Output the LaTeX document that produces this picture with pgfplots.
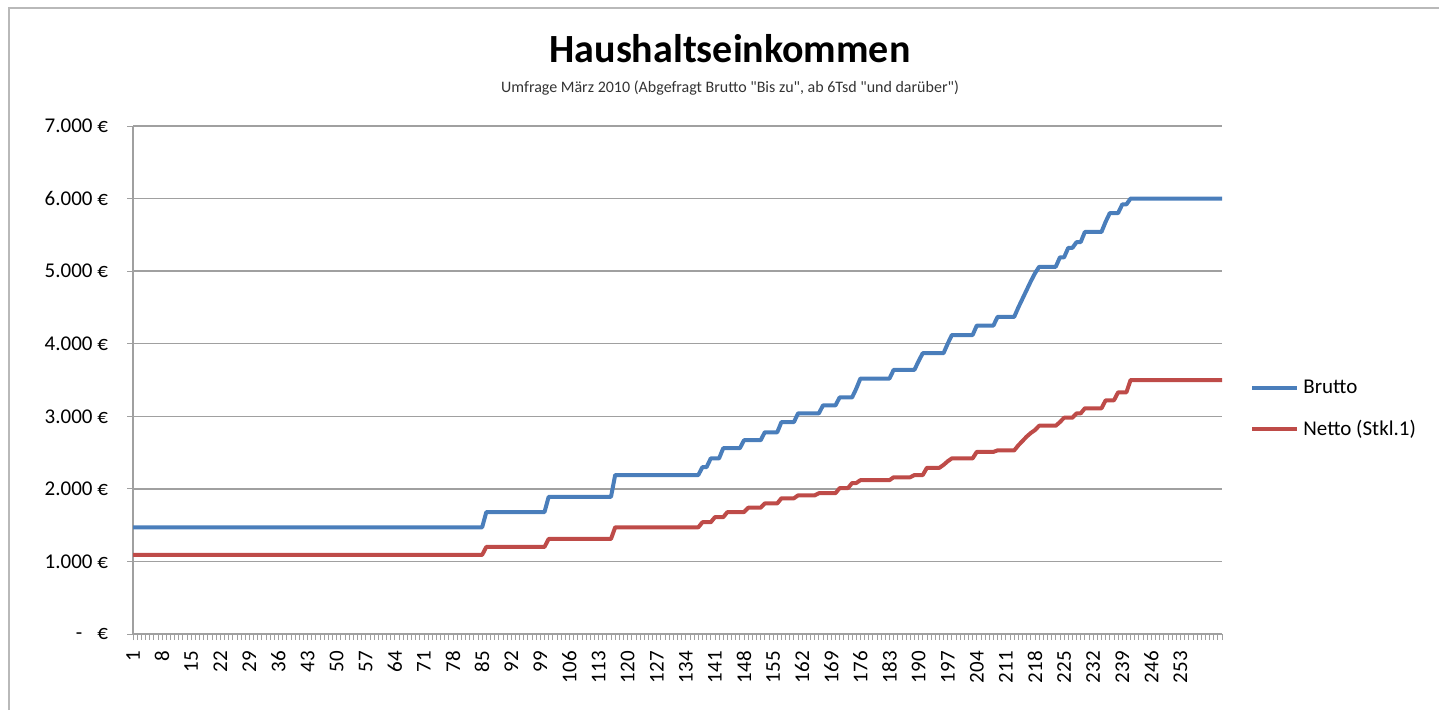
\documentclass[border=0pt]{standalone}
\usepackage{fontspec}
\setmainfont{Carlito}
\newfontfamily\plainfont{Carlito}
\usepackage{pgfplots}
\usepackage{pgfplotstable}
\pgfplotsset{compat=1.18}
\definecolor{bluS}{RGB}{74,126,187}
\definecolor{redS}{RGB}{190,75,72}
\definecolor{gridc}{RGB}{160,160,160}

\pgfplotstableread{
i v
1 1470
85 1470
86 1680
100 1680
101 1890
116 1890
117 2190
137 2190
138 2300
139 2300
140 2420
142 2420
143 2560
147 2560
148 2670
152 2670
153 2780
156 2780
157 2920
160 2920
161 3040
166 3040
167 3150
170 3150
171 3260
174 3260
175 3380
176 3520
183 3520
184 3640
189 3640
190 3760
191 3870
196 3870
197 4000
198 4120
203 4120
204 4250
208 4250
209 4370
213 4370
214 4500
215 4620
216 4740
217 4860
218 4970
219 5060
223 5060
224 5190
225 5190
226 5320
227 5320
228 5400
229 5400
230 5540
234 5540
235 5680
236 5800
238 5800
239 5920
240 5920
241 6000
263 6000
}\brutto

\pgfplotstableread{
i v
1 1090
85 1090
86 1200
100 1200
101 1310
116 1310
117 1470
137 1470
138 1540
140 1540
141 1610
143 1610
144 1680
148 1680
149 1740
152 1740
153 1800
156 1800
157 1870
160 1870
161 1910
165 1910
166 1940
170 1940
171 2010
173 2010
174 2080
175 2080
176 2120
183 2120
184 2160
188 2160
189 2190
191 2190
192 2290
195 2290
196 2330
197 2380
198 2420
203 2420
204 2510
208 2510
209 2530
213 2530
214 2600
215 2660
216 2720
217 2770
218 2810
219 2870
223 2870
224 2920
225 2980
227 2980
228 3040
229 3040
230 3110
234 3110
235 3220
237 3220
238 3330
240 3330
241 3500
263 3500
}\netto

\begin{document}
\begin{tikzpicture}
\useasboundingbox (0,0) rectangle (719.5pt,356.5pt);
\draw[gray!55, line width=1pt] (4.25pt,1.5pt) -- (4.25pt,352.25pt) -- (719.5pt,352.25pt);
\node[anchor=base, font=\bfseries\fontsize{20}{24}\selectfont] at (365pt,325pt) {Haushaltseinkommen};
\node[anchor=base, font=\plainfont\fontsize{8}{10}\selectfont, text=black!80] at (365pt,310pt) {Umfrage März 2010 (Abgefragt Brutto "Bis zu", ab 6Tsd "und darüber")};
\begin{axis}[
  at={(66.5pt,39.5pt)}, anchor=south west,
  scale only axis, width=544.5pt, height=254pt,
  xmin=1, xmax=263, ymin=0, ymax=7000,
  axis lines*=left,
  axis line style={-, draw=gridc, line width=0.8pt},
  every outer x axis line/.append style={-},
  every outer y axis line/.append style={-},
  tick align=outside,
  xtick={1,8,...,253},
  minor xtick={1,2,...,263},
  major tick length=3pt, minor tick length=3pt,
  tick style={draw=gridc, line width=0.4pt},
  x tick label style={rotate=90, anchor=east, xshift=-2pt, font=\fontsize{10.5}{12}\selectfont},
  /pgf/number format/assume math mode=true,
  ytick={0,1000,...,7000},
  yticklabels={{-\hspace{7.5pt}€},{1.000 €},{2.000 €},{3.000 €},{4.000 €},{5.000 €},{6.000 €},{7.000 €}},
  y tick label style={font=\fontsize{10.5}{12}\selectfont, xshift=-6pt},
  ymajorgrids, grid style={draw=gridc, line width=0.75pt},
  legend style={at={(1,0.443)}, anchor=west, xshift=12pt, draw=none, fill=none,
    font=\fontsize{10.5}{12}\selectfont, row sep=8pt, inner xsep=2pt},
  legend cell align=left,
  legend image code/.code={\draw[#1] (0pt,0pt) -- (22.5pt,0pt);},
  clip=false,
]
\addplot[color=bluS, line width=2pt, line join=round] table[x=i, y=v] {\brutto};
\addlegendentry{Brutto}
\addplot[color=redS, line width=2pt, line join=round] table[x=i, y=v] {\netto};
\addlegendentry{Netto (Stkl.1)}
\end{axis}
\end{tikzpicture}
\end{document}
